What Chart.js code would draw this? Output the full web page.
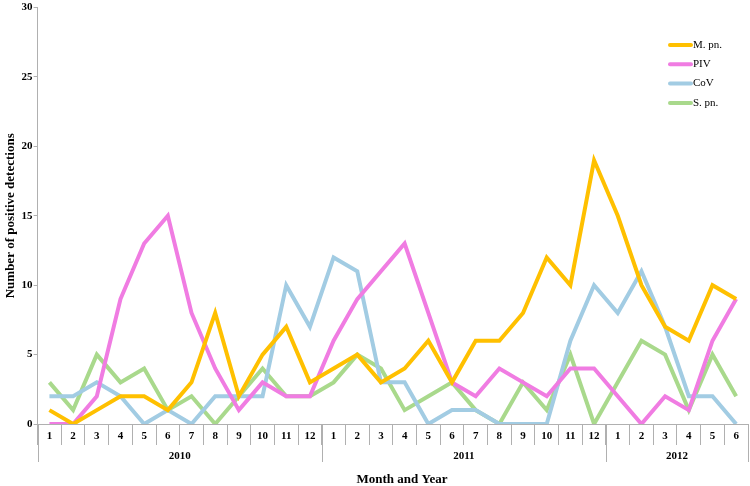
<!DOCTYPE html>
<html>
<head>
<meta charset="utf-8">
<script src="https://cdn.jsdelivr.net/npm/chart.js@4"></script>
<style>
  html, body { margin: 0; padding: 0; background: #fff; }
  #wrap { width: 750px; height: 486px; position: relative; }
</style>
</head>
<body>
<div id="wrap"><canvas id="detChart"></canvas></div>
<script>
// month labels, 2010-01 .. 2012-06
const months = ['1','2','3','4','5','6','7','8','9','10','11','12',
                '1','2','3','4','5','6','7','8','9','10','11','12',
                '1','2','3','4','5','6'];
const years = ['2010', '2011', '2012'];
const yearSpans = [12, 12, 6];   // months per year

const mpn = [1,0,1,2,2,1,3,8,2,5,7,3, 4,5,3,4,6,3,6,6,8,12,10,19, 15,10,7,6,10,9];
const piv = [0,0,2,9,13,15,8,4,1,3,2,2, 6,9,11,13,8,3,2,4,3,2,4,4, 2,0,2,1,6,9];
const cov = [2,2,3,2,0,1,0,2,2,2,10,7, 12,11,3,3,0,1,1,0,0,0,6,10, 8,11,7,2,2,0];
const spn = [3,1,5,3,4,1,2,0,2,4,2,2, 3,5,4,1,2,3,1,0,3,1,5,0, 3,6,5,1,5,2];

const serif = "'Liberation Serif', 'Times New Roman', serif";
const axisGray = '#b0b0b0';

// year row below the month labels, x title, legend in the top right
const extrasPlugin = {
  id: 'extras',
  afterDraw(chart) {
    const ctx = chart.ctx;
    const x = chart.scales.x;
    const top = chart.chartArea.bottom;
    ctx.save();
    ctx.strokeStyle = axisGray;
    ctx.lineWidth = 1;
    ctx.fillStyle = '#000';
    ctx.font = 'bold 11px ' + serif;
    ctx.textAlign = 'center';
    ctx.textBaseline = 'middle';
    let start = 0;
    const edge = i => x.getPixelForValue(i) - (x.getPixelForValue(1) - x.getPixelForValue(0)) / 2;
    for (let k = 0; k <= years.length; k++) {
      const px = Math.round(edge(start)) + 0.5;
      ctx.beginPath();
      ctx.moveTo(px, top);
      ctx.lineTo(px, top + 38);
      ctx.stroke();
      if (k < years.length) {
        const mid = (edge(start) + edge(start + yearSpans[k])) / 2;
        ctx.fillText(years[k], mid, top + 32);
        start += yearSpans[k];
      }
    }

    ctx.font = 'bold 13px ' + serif;
    ctx.fillText('Month and Year', 402, top + 56);

    // legend
    ctx.textAlign = 'left';
    ctx.font = '11px ' + serif;
    ctx.lineCap = 'round';
    chart.data.datasets.forEach((ds, i) => {
      const y = 45 + i * 19.3;
      ctx.strokeStyle = ds.borderColor;
      ctx.lineWidth = 4;
      ctx.beginPath();
      ctx.moveTo(670, y);
      ctx.lineTo(691, y);
      ctx.stroke();
      ctx.fillText(ds.label, 693, y);
    });
    ctx.restore();
  }
};

const lineStyle = color => ({
  borderColor: color,
  backgroundColor: color,
  borderWidth: 4,
  pointRadius: 0,
  tension: 0,
  fill: false
});

new Chart(document.getElementById('detChart'), {
  type: 'line',
  data: {
    labels: months,
    datasets: [
      { label: 'M. pn.', data: mpn, ...lineStyle('#FFC000') },
      { label: 'PIV', data: piv, ...lineStyle('#F07CE2') },
      { label: 'CoV', data: cov, ...lineStyle('#A2CCE3') },
      { label: 'S. pn.', data: spn, ...lineStyle('#A9D98C') }
    ]
  },
  options: {
    responsive: true,
    maintainAspectRatio: false,
    animation: false,
    layout: { padding: { top: 2, right: 2, left: 3, bottom: 0 } },
    plugins: {
      legend: { display: false },
      tooltip: { enabled: false }
    },
    scales: {
      x: {
        offset: true,
        afterFit: scale => { scale.height = 62; },  // room for month + year rows and title
        grid: {
          offset: true,
          drawOnChartArea: false,
          tickLength: 21,
          color: axisGray
        },
        border: { color: axisGray },
        ticks: {
          padding: -15,
          maxRotation: 0,
          autoSkip: false,
          color: '#000',
          font: { family: serif, weight: 'bold', size: 11 }
        }
      },
      y: {
        min: 0,
        max: 30,
        ticks: {
          stepSize: 5,
          padding: 1,
          color: '#000',
          font: { family: serif, weight: 'bold', size: 11 }
        },
        grid: {
          drawOnChartArea: false,
          tickLength: 4,
          color: axisGray
        },
        border: { color: axisGray },
        title: {
          display: true,
          text: 'Number of positive detections',
          color: '#000',
          padding: { top: 0, bottom: 2 },
          font: { family: serif, weight: 'bold', size: 13 }
        }
      }
    }
  },
  plugins: [extrasPlugin]
});
</script>
</body>
</html>
